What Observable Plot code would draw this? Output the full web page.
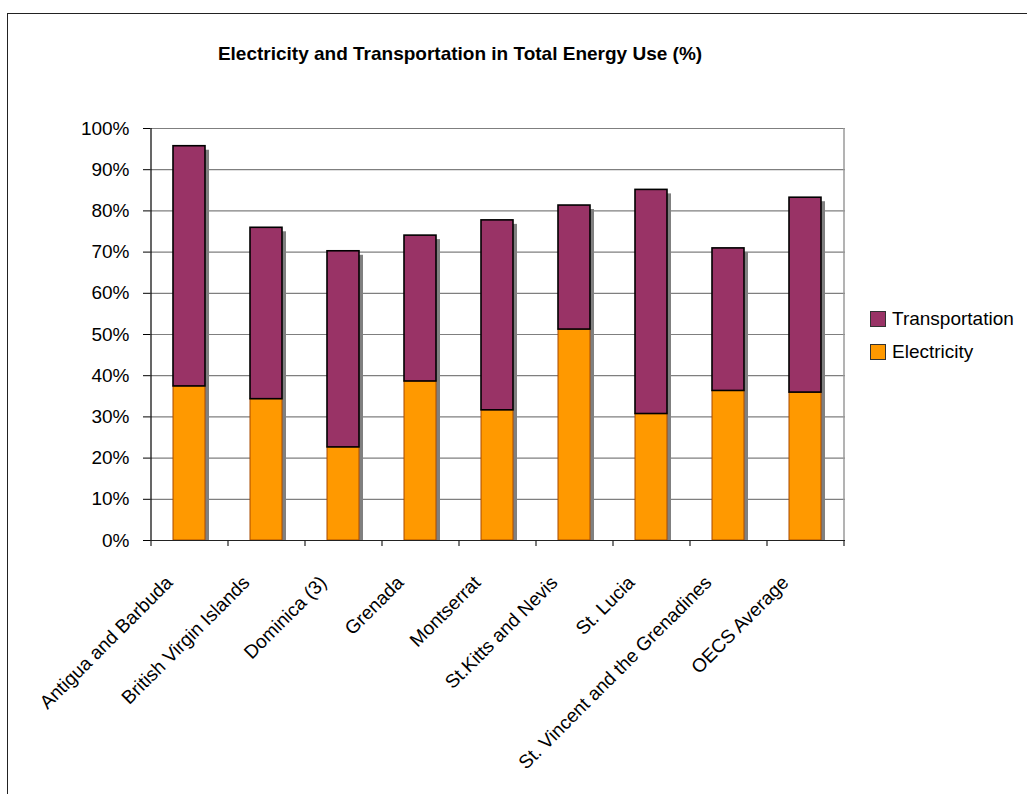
<!DOCTYPE html>
<html>
<head>
<meta charset="utf-8">
<script src="https://cdn.jsdelivr.net/npm/d3@7"></script>
<script src="https://cdn.jsdelivr.net/npm/@observablehq/plot@0.6"></script>
<style>
  html, body { margin: 0; padding: 0; background: #fff; }
  #wrap { position: relative; width: 1027px; height: 794px; overflow: hidden; font-family: "Liberation Sans", Arial, sans-serif; }
  #border { position: absolute; left: 7px; top: 13px; width: 1040px; height: 800px; border-left: 1px solid #222; border-top: 1px solid #222; box-sizing: border-box; }
  #title { position: absolute; left: 0; width: 920px; top: 44px; line-height: 1; text-align: center; font-weight: bold; font-size: 19px; color: #000; }
  #legend { position: absolute; left: 870px; top: 302px; font-size: 19px; color: #000; }
  .row { display: flex; align-items: center; height: 33px; }
  .sw { width: 16px; height: 16px; border: 1px solid #333; margin-right: 6px; box-sizing: border-box; }
  #chart { position: absolute; left: 0; top: 0; }
</style>
</head>
<body>
<div id="wrap">
  <div id="border"></div>
  <div id="title">Electricity and Transportation in Total Energy Use (%)</div>
  <div id="chart"></div>
  <div id="legend">
    <div class="row"><div class="sw" style="background:#993366"></div><span>Transportation</span></div>
    <div class="row"><div class="sw" style="background:#FF9900"></div><span>Electricity</span></div>
  </div>
</div>
<script>
const categories = [
  "Antigua and Barbuda",
  "British Virgin Islands",
  "Dominica (3)",
  "Grenada",
  "Montserrat",
  "St.Kitts and Nevis",
  "St. Lucia",
  "St. Vincent and the Grenadines",
  "OECS Average"
];
const electricity = [37.4, 34.3, 22.6, 38.6, 31.6, 51.2, 30.7, 36.3, 35.9];
const transportation = [58.3, 41.6, 47.6, 35.4, 46.1, 30.1, 54.4, 34.6, 47.3];
const yTicks = [0, 10, 20, 30, 40, 50, 60, 70, 80, 90, 100];

const rows = categories.map((c, i) => ({
  country: c,
  elec: electricity[i],
  trans: transportation[i],
  total: electricity[i] + transportation[i]
}));

const halfStep = 38.5;

const chart = Plot.plot({
  width: 1027,
  height: 794,
  marginLeft: 150,
  marginRight: 182,
  marginTop: 128,
  marginBottom: 254,
  style: { fontFamily: "'Liberation Sans', Arial, sans-serif", fontSize: "19px", color: "#000", background: "transparent", overflow: "visible" },
  x: { domain: categories, paddingInner: 0.584, paddingOuter: 0.292, axis: null, label: null },
  y: { domain: [0, 100], ticks: yTicks, tickFormat: d => d + "%", tickSize: 7, tickPadding: 14, label: null },
  marks: [
    Plot.ruleY(yTicks.slice(1), { y: d => d, stroke: "#7f7f7f", strokeWidth: 1.2 }),
    Plot.ruleX([categories[categories.length - 1]], { x: d => d, dx: halfStep, y1: 0, y2: 100, stroke: "#9a9a9a", strokeWidth: 1.5 }),
    Plot.barY(rows, { x: "country", y1: 0, y2: "total", fill: "#808080", dx: 4, dy: 4, insetBottom: 4 }),
    Plot.barY(rows, { x: "country", y1: 0, y2: "elec", fill: "#FF9900", stroke: "#a84b00", strokeWidth: 1 }),
    Plot.barY(rows, { x: "country", y1: "elec", y2: "total", fill: "#993366", stroke: "#000", strokeWidth: 1.6 }),
    Plot.ruleY([0], { y: d => d, stroke: "#222", strokeWidth: 1.2 }),
    Plot.ruleX([categories[0]], { x: d => d, dx: -halfStep, y1: 0, y2: 100, stroke: "#000", strokeWidth: 1.2 }),
    Plot.ruleX(categories, { x: d => d, dx: -halfStep, y1: 0, y2: 0, insetBottom: -6, stroke: "#222", strokeWidth: 1.2 }),
    Plot.ruleX([categories[categories.length - 1]], { x: d => d, dx: halfStep, y1: 0, y2: 0, insetBottom: -6, stroke: "#222", strokeWidth: 1.2 }),
    Plot.text(categories, { x: d => d, y: 0, text: d => d, rotate: -45, textAnchor: "end", dx: -20, dy: 39, fontSize: 19, fill: "#000" })
  ]
});
document.getElementById("chart").appendChild(chart);
</script>
</body>
</html>
